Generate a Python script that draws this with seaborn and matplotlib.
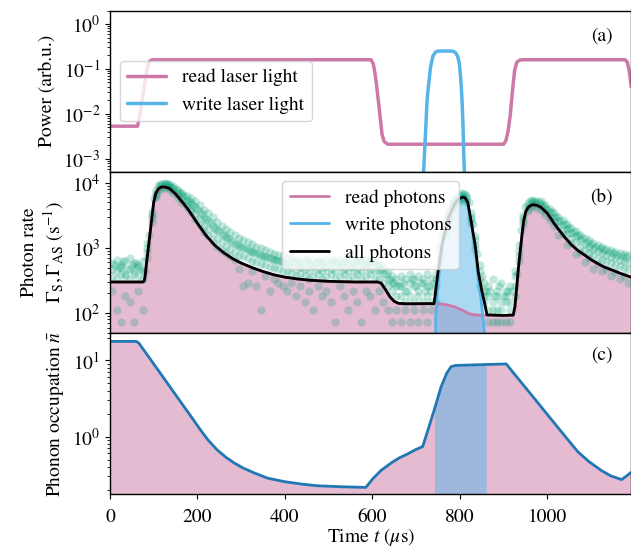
import numpy as np
import pandas as pd
import matplotlib
matplotlib.use("Agg")
import matplotlib.pyplot as plt
import seaborn as sns

# colours
pink = "#cc79a7"
sky = "#56b4e9"
green = "#009e73"
blue = "#1f77b4"

# (a) laser power
t_read_laser = [0, 63, 65, 70, 75, 80, 85, 90, 95, 100,
                597, 602, 606, 610, 614, 618, 622, 627, 635,
                900, 905, 910, 915, 920, 925, 930, 937, 945,
                1178, 1183, 1188, 1192]
p_read_laser = [5.3e-3, 5.3e-3, 6.5e-3, 0.012, 0.025, 0.05, 0.1, 0.145, 0.158, 0.16,
                0.16, 0.13, 0.08, 0.04, 0.018, 0.008, 0.0035, 0.0024, 0.0021,
                0.0021, 0.0025, 0.004, 0.009, 0.03, 0.09, 0.14, 0.158, 0.16,
                0.16, 0.14, 0.08, 0.04]
t_write_laser = [712, 717, 721, 725, 729, 733, 738, 744, 750, 783,
                 790, 795, 799, 802, 805, 807, 809, 811, 816]
p_write_laser = [1e-4, 5e-4, 0.003, 0.02, 0.05, 0.11, 0.19, 0.235, 0.25, 0.25,
                 0.23, 0.19, 0.13, 0.06, 0.02, 0.006, 0.0012, 3e-4, 1e-4]

# (b) photon rates (model): read photons and all photons
t_rate = [0, 75, 78, 80, 85, 90, 95, 100, 105, 110, 116, 122, 135, 150, 165, 180, 200, 219,
          240, 260, 280, 300, 325, 350, 375, 400, 430, 460, 500, 560, 612, 620, 630, 640,
          650, 660, 680, 741, 745, 750, 760, 775, 790, 800, 807, 812, 818, 826, 835, 842,
          850, 857, 862, 900, 915, 922, 926, 930, 934, 938, 942, 946, 951, 957, 966, 975,
          985, 1000, 1015, 1025, 1040, 1055, 1070, 1085, 1100, 1115, 1130, 1147, 1170, 1192]
rate_read = [300, 300, 310, 355, 710, 1350, 2630, 5010, 6900, 7940, 8510, 8650, 8260, 6710,
             5090, 3780, 2380, 1570, 1090, 845, 687, 585, 498, 434, 386, 356, 333, 318, 307,
             300, 300, 288, 229, 178, 151, 141, 139, 139, 139, 139, 137, 132, 123, 115, 110,
             106, 100, 96, 94, 93, 93, 93, 93, 92, 93, 93, 126, 251, 500, 890, 1585, 2630,
             3630, 4270, 4600, 4520, 4220, 3390, 2400, 1950, 1450, 1120, 910, 780, 660, 575,
             510, 460, 400, 355]
rate_all = [300, 300, 310, 355, 710, 1350, 2630, 5010, 6900, 7940, 8510, 8650, 8260, 6710,
            5090, 3780, 2380, 1570, 1090, 845, 687, 585, 498, 434, 386, 356, 333, 318, 307,
            300, 300, 288, 229, 178, 151, 141, 139, 140, 229, 429, 1197, 3002, 5003, 5750,
            6000, 5850, 5000, 2496, 1094, 433, 223, 138, 94, 92, 93, 93, 126, 251, 500, 890,
            1585, 2630, 3630, 4270, 4600, 4520, 4220, 3390, 2400, 1950, 1450, 1120, 910, 780,
            660, 575, 510, 460, 400, 355]
# write photons
t_write_rate = [0, 741, 745, 750, 760, 775, 790, 800, 807, 812, 818, 826, 835, 842, 850,
                857, 862, 1192]
rate_write = [1, 1, 90, 290, 1060, 2870, 4880, 5635, 5890, 5744, 4900, 2400, 1000, 340, 130,
              45, 1, 1]

# (b) measured photon rates: four repetitions on a 10 us grid ...
t_meas = list(range(5, 1190, 10))
meas_1 = [587, 660, 550, 623, 697, 587, 550, 623,
          1200, 3600, 7600, 9400, 9800, 9600, 8900, 7800, 7000, 6200, 5800, 5200, 4600, 3850,
          3450, 3000, 2500, 2200, 1950, 1750, 1550, 1420, 1320, 1220, 1130, 1050, 980, 930,
          870, 820, 780, 740, 700,
          697, 660, 623, 660, 587, 660, 623, 587, 660, 623, 587, 660, 623, 587, 660, 623, 587,
          660, 623, 587,
          550, 513, 440, 367, 330,
          367, 330, 403, 330, 367, 330, 403, 330,
          403, 1100, 2200, 3700, 5100, 6200, 7000, 6500, 3400, 1500, 550, 293,
          257, 330, 220, 293, 220, 257,
          440, 1100, 3200, 4800, 5400, 5300,
          5200, 4600, 4000, 3450, 3000, 2650, 2300, 2050, 1800, 1550, 1400, 1300, 1200, 1100,
          1030, 970, 920, 880, 840, 800, 770]
meas_2 = [477, 440, 513, 403, 477, 440, 513, 440,
          1000, 3200, 7000, 8800, 9400, 9100, 8200, 7100, 6200, 5500, 4900, 4200, 3600, 2900,
          2550, 2200, 1850, 1630, 1450, 1300, 1150, 1060, 990, 920, 850, 800, 760, 720, 690,
          660, 623, 587, 550,
          513, 477, 513, 477, 440, 513, 477, 440, 513, 477, 440, 513, 477, 440, 513, 477, 440,
          513, 477, 440,
          440, 403, 330, 293, 257,
          257, 220, 293, 257, 220, 293, 257, 220,
          330, 950, 1950, 3350, 4700, 5800, 6500, 6000, 3000, 1300, 440, 220,
          183, 147, 183, 147, 183, 147,
          367, 900, 2850, 4400, 5000, 4900,
          4700, 4100, 3500, 3000, 2600, 2250, 1950, 1700, 1500, 1300, 1150, 1050, 970, 890,
          830, 780, 730, 700, 660, 630, 600]
meas_3 = [367, 330, 403, 367, 330, 403, 367, 330,
          850, 2900, 6500, 8300, 8900, 8600, 7500, 6400, 5500, 4700, 4000, 3300, 2750, 2200,
          1950, 1620, 1370, 1210, 1080, 960, 860, 790, 740, 690, 640, 600, 565, 550, 513, 490,
          477, 440, 440,
          403, 367, 403, 367, 330, 367, 403, 330, 367, 403, 330, 367, 403, 330, 367, 403, 330,
          367, 403, 330,
          330, 293, 257, 220, 183,
          183, 147, 183, 147, 183, 147, 183, 147,
          257, 820, 1750, 3050, 4350, 5400, 6000, 5550, 2750, 1100, 330, 183,
          110, 110, 110, 110, 147, 110,
          257, 750, 2550, 4000, 4700, 4500,
          4200, 3600, 3000, 2550, 2200, 1900, 1650, 1420, 1250, 1050, 920, 840, 780, 710, 660,
          620, 580, 550, 520, 490, 470]
meas_4 = [220, 110, 73, 183, 147, 73, 220, 110,
          700, 2500, 6000, 7700, 8400, 8000, 6900, 5800, 4950, 4200, 3500, 2800, 2250, 1750,
          1500, 1250, 1050, 930, 830, 740, 660, 480, 257, 293, 440, 257, 110, 367, 220, 330,
          293, 257, 220,
          293, 183, 257, 147, 220, 110, 257, 183, 220, 147, 73, 257, 183, 110, 220, 147, 73,
          220, 183, 110,
          220, 147, 110, 73, 110,
          73, 110, 73, 110, 73, 110, 73, 110,
          147, 700, 1550, 2800, 4050, 5000, 5600, 5100, 2450, 950, 257, 147,
          73, 73, 73, 73, 73, 73,
          183, 620, 2300, 3700, 4400, 4150,
          3750, 3200, 2650, 2200, 1550, 1650, 1100, 1200, 800, 870, 600, 690, 480, 560, 440,
          480, 367, 420, 330, 370, 293]
# ... plus one repetition on the shifted grid
t_meas_shift = list(range(10, 1190, 10))
meas_5 = [550, 513, 623, 477, 550, 587, 477, 440,
          1600, 5800, 8900, 9600, 9500, 8700, 8000, 7000, 6300, 5300, 4600, 3900, 3300, 2800,
          2400, 2050, 1800, 1600, 1400, 1250, 1150, 1050, 980, 900, 850, 800, 760, 720, 680,
          650, 623, 587,
          550, 623, 587, 513, 660, 550, 587, 623, 513, 550, 660, 587, 550, 623, 513, 587, 660,
          550, 587, 623,
          550, 477, 403, 330, 293,
          257, 293, 220, 330, 257, 293, 220, 257, 293,
          550, 1500, 2700, 4100, 5600, 6400, 6700, 5000, 2300, 800, 367, 220,
          220, 183, 257, 183, 220,
          220, 400, 1900, 4300, 5200, 5300, 5000, 4500, 4000, 3500, 3000, 2600, 2300, 2000,
          1750, 1550, 1400, 1250, 1150, 1050, 980, 920, 870, 830, 790, 760, 730]

# (c) phonon occupation
t_phonon = [0, 60, 66, 85, 105, 125, 145, 165, 185, 207, 225, 245, 265, 284, 305, 330, 360,
            400, 440, 474, 530, 585, 601, 620, 643, 660, 680, 698, 715, 728, 742, 757, 770,
            780, 790, 860, 906, 925, 950, 975, 1000, 1025, 1047, 1070, 1095, 1123, 1145, 1170,
            1192]
n_phonon = [17.8, 17.8, 16.9, 11.9, 8.2, 5.65, 3.89, 2.68, 1.85, 1.22, 0.89, 0.67, 0.535,
            0.45, 0.385, 0.333, 0.285, 0.255, 0.237, 0.226, 0.219, 0.215, 0.28, 0.36, 0.45,
            0.52, 0.59, 0.67, 0.74, 1.27, 2.3, 4.5, 6.8, 8.3, 8.6, 8.85, 9.0, 6.6, 4.4, 2.94,
            1.95, 1.3, 0.91, 0.63, 0.47, 0.36, 0.305, 0.272, 0.34]
write_start, write_end = 742, 860

sns.set_style("ticks")
plt.rcParams.update({
    "font.family": "STIXGeneral",
    "mathtext.fontset": "stix",
    "font.size": 14,
    "axes.edgecolor": "black",
    "axes.labelcolor": "black",
    "text.color": "black",
    "xtick.color": "black",
    "ytick.color": "black",
    "axes.linewidth": 1.0,
    "xtick.major.size": 3.5,
    "ytick.major.size": 3.5,
    "ytick.minor.size": 2,
    "xtick.direction": "out",
    "ytick.direction": "out",
})

fig = plt.figure(figsize=(6.31, 5.5), dpi=100)
left, width, h = 0.1743, 0.8262, 0.2933
ax1 = fig.add_axes([left, 0.6876, width, h])
ax2 = fig.add_axes([left, 0.3944, width, h])
ax3 = fig.add_axes([left, 0.1011, width, h])

# (a)
sns.lineplot(x=t_read_laser, y=p_read_laser, ax=ax1, color=pink, lw=2.5,
             sort=False, estimator=None, label="read laser light")
sns.lineplot(x=t_write_laser, y=p_write_laser, ax=ax1, color=sky, lw=2.5,
             sort=False, estimator=None, label="write laser light")
ax1.set_yscale("log")
ax1.set_ylim(5.1e-4, 2.0)
ax1.set_ylabel("Power (arb.u.)")
ax1.legend(loc="center left")
ax1.text(0.943, 0.84, "(a)", transform=ax1.transAxes, ha="center", va="center")

# (b)
ax2.fill_between(t_rate, 1, rate_read, color=pink, alpha=0.5, lw=0, zorder=1)
ax2.fill_between(t_write_rate, 1, rate_write, color=sky, alpha=0.5, lw=0, zorder=1)
meas = pd.DataFrame({
    "t": t_meas * 4 + t_meas_shift,
    "rate": meas_1 + meas_2 + meas_3 + meas_4 + meas_5,
})
sns.scatterplot(data=meas, x="t", y="rate", ax=ax2, color=green, alpha=0.24, s=36,
                linewidth=0, legend=False, zorder=1.5)
sns.lineplot(x=t_rate, y=rate_read, ax=ax2, color=pink, lw=2, sort=False,
             estimator=None, label="read photons")
sns.lineplot(x=t_write_rate, y=rate_write, ax=ax2, color=sky, lw=2, sort=False,
             estimator=None, label="write photons")
sns.lineplot(x=t_rate, y=rate_all, ax=ax2, color="black", lw=2, sort=False,
             estimator=None, label="all photons")
ax2.set_yscale("log")
ax2.set_ylim(49.4, 14700)
ax2.set_ylabel("Photon rate\n$\\Gamma_{\\mathrm{S}}, \\Gamma_{\\mathrm{AS}}$ (s$^{-1}$)")
ax2.legend(loc="upper center")
ax2.text(0.943, 0.84, "(b)", transform=ax2.transAxes, ha="center", va="center")

# (c)
t_arr = np.array(t_phonon)
in_write = (t_arr >= write_start) & (t_arr <= write_end)
ax3.fill_between(t_phonon, 0.01, n_phonon, color=pink, alpha=0.5, lw=0)
ax3.fill_between(t_phonon, 0.01, n_phonon, where=in_write, color=sky, alpha=0.5, lw=0)
sns.lineplot(x=t_phonon, y=n_phonon, ax=ax3, color=blue, lw=2, sort=False, estimator=None)
ax3.set_yscale("log")
ax3.set_ylim(0.174, 22.9)
ax3.set_ylabel("Phonon occupation $\\bar{n}$")
ax3.set_xlabel("Time $t$ ($\\mu$s)", labelpad=0)
ax3.set_xticks([0, 200, 400, 600, 800, 1000])
ax3.tick_params(axis="x", pad=7)
ax3.text(0.943, 0.865, "(c)", transform=ax3.transAxes, ha="center", va="center")

for ax in (ax1, ax2, ax3):
    ax.set_xlim(0, 1192)
for ax in (ax1, ax2):
    ax.set_xlabel("")
    ax.tick_params(axis="x", which="both", bottom=False, labelbottom=False)

fig.align_ylabels([ax1, ax2, ax3])
fig.savefig("out.png", dpi=100)
